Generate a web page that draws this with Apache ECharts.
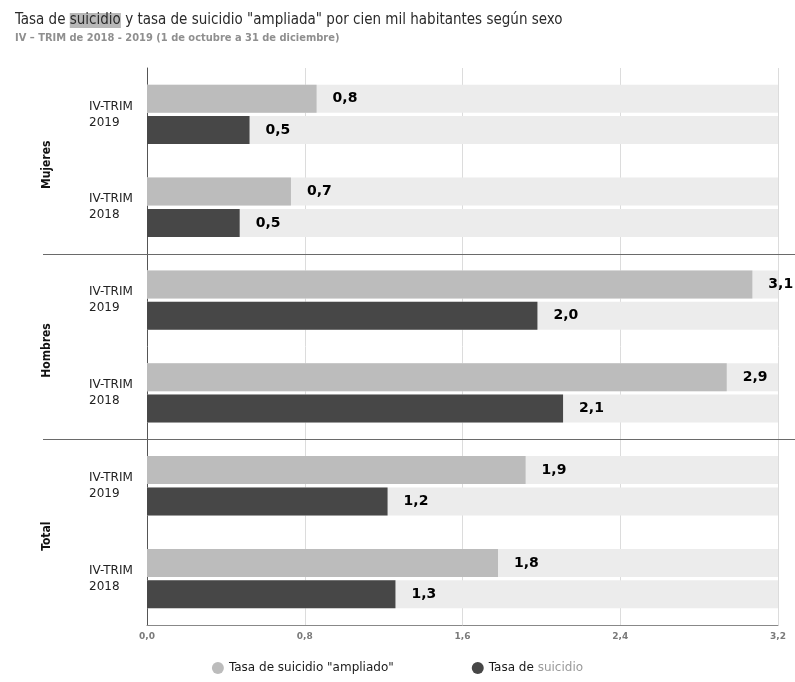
<!DOCTYPE html>
<html>
<head>
<meta charset="utf-8">
<script src="https://cdn.jsdelivr.net/npm/echarts@6/dist/echarts.min.js"></script>
<style>
  html, body { margin: 0; padding: 0; background: #fff; }
  #chart { width: 795px; height: 682px; }
</style>
</head>
<body>
<div id="chart"></div>
<script>
// categories top to bottom: group|period
const groups = ["Mujeres", "Hombres", "Total"];
const categories = [
  "Mujeres|2019", "Mujeres|2018",
  "Hombres|2019", "Hombres|2018",
  "Total|2019", "Total|2018",
];

// tasa "ampliada" (light bars) and tasa de suicidio (dark bars)
const ampliada = [0.86, 0.73, 3.07, 2.94, 1.92, 1.78];
const ampliadaLabels = ["0,8", "0,7", "3,1", "2,9", "1,9", "1,8"];
const suicidio = [0.52, 0.47, 1.98, 2.11, 1.22, 1.26];
const suicidioLabels = ["0,5", "0,5", "2,0", "2,1", "1,2", "1,3"];

const xMax = 3.2;
const xStep = 0.8;

const narrow = '"Liberation Sans Narrow", "DejaVu Sans Condensed", sans-serif';
const sans = '"DejaVu Sans", "Open Sans", sans-serif';

const fmt = (v) => v.toFixed(1).replace(".", ",");

const valueLabel = (labels) => ({
  show: true,
  position: "right",
  distance: 16,
  color: "#000",
  fontFamily: sans,
  fontWeight: 900,
  fontSize: 14,
  formatter: (p) => labels[p.dataIndex],
});

const chart = echarts.init(document.getElementById("chart"), null, { renderer: "canvas" });

const option = {
  animation: false,
  title: {
    left: 10,
    top: 8,
    text: 'Tasa de {hl|suicidio} y tasa de suicidio "ampliada" por cien mil habitantes según sexo',
    subtext: "IV – TRIM de 2018 - 2019 (1 de octubre a 31 de diciembre)",
    itemGap: 5,
    textStyle: {
      fontFamily: narrow,
      fontWeight: "normal",
      fontSize: 15,
      color: "#2a2a2a",
      rich: {
        hl: {
          fontFamily: narrow,
          fontSize: 15,
          color: "#2a2a2a",
          backgroundColor: "#b8b8b8",
        },
      },
    },
    subtextStyle: {
      fontFamily: narrow,
      fontWeight: "bold",
      fontSize: 11,
      color: "#8f8f8f",
    },
  },
  legend: {
    bottom: 3,
    left: "center",
    itemGap: 78,
    icon: "circle",
    itemWidth: 12,
    itemHeight: 12,
    data: ['Tasa de suicidio "ampliado"', "Tasa de suicidio"],
    textStyle: {
      fontFamily: sans,
      fontSize: 12,
      color: "#1a1a1a",
      rich: { g: { fontFamily: sans, fontSize: 12, color: "#9a9a9a" } },
    },
    formatter: (name) => (name === "Tasa de suicidio" ? "Tasa de {g|suicidio}" : name),
  },
  grid: { left: 147, right: 17, top: 68, bottom: 57, containLabel: false },
  xAxis: {
    type: "value",
    min: 0,
    max: xMax,
    interval: xStep,
    axisLine: { show: true, lineStyle: { color: "#888", width: 1 } },
    axisTick: { show: false },
    splitLine: { show: true, lineStyle: { color: "#dcdcdc" } },
    axisLabel: {
      color: "#7a7a7a",
      fontFamily: sans,
      fontWeight: "bold",
      fontSize: 9,
      margin: 7,
      formatter: fmt,
    },
  },
  yAxis: {
    type: "category",
    inverse: true,
    data: categories,
    axisLine: { show: true, lineStyle: { color: "#555" } },
    axisTick: { show: false },
    axisLabel: {
      align: "left",
      margin: 58,
      color: "#222",
      fontFamily: sans,
      fontSize: 12,
      lineHeight: 16,
      formatter: (v) => "IV-TRIM\n" + v.split("|")[1],
    },
  },
  series: [
    {
      name: 'Tasa de suicidio "ampliado"',
      type: "bar",
      data: ampliada,
      barWidth: 28,
      barGap: "12%",
      itemStyle: { color: "#bcbcbc" },
      showBackground: true,
      backgroundStyle: { color: "#ececec" },
      label: valueLabel(ampliadaLabels),
    },
    {
      name: "Tasa de suicidio",
      type: "bar",
      data: suicidio,
      barWidth: 28,
      itemStyle: { color: "#474747" },
      showBackground: true,
      backgroundStyle: { color: "#ececec" },
      label: valueLabel(suicidioLabels),
    },
  ],
};

chart.setOption(option);

// group separators and rotated group names, placed from the category axis
const yOf = (c) => chart.convertToPixel({ yAxisIndex: 0 }, c);
const graphics = [];
groups.forEach((g, gi) => {
  const members = categories.filter((c) => c.startsWith(g + "|"));
  const first = yOf(members[0]);
  const last = yOf(members[members.length - 1]);
  graphics.push({
    type: "text",
    x: 47,
    y: (first + last) / 2 + 4,
    rotation: Math.PI / 2,
    style: {
      text: g,
      fill: "#111",
      font: "bold 12px " + narrow,
      align: "center",
      verticalAlign: "middle",
    },
  });
  if (gi < groups.length - 1) {
    const nextFirst = yOf(categories[categories.indexOf(members[members.length - 1]) + 1]);
    const yb = Math.round((last + nextFirst) / 2) + 0.5;
    graphics.push({
      type: "line",
      shape: { x1: 43, y1: yb, x2: 795, y2: yb },
      style: { stroke: "#6a6a6a", lineWidth: 1 },
      z: 10,
    });
  }
});
chart.setOption({ graphic: graphics });
</script>
</body>
</html>
